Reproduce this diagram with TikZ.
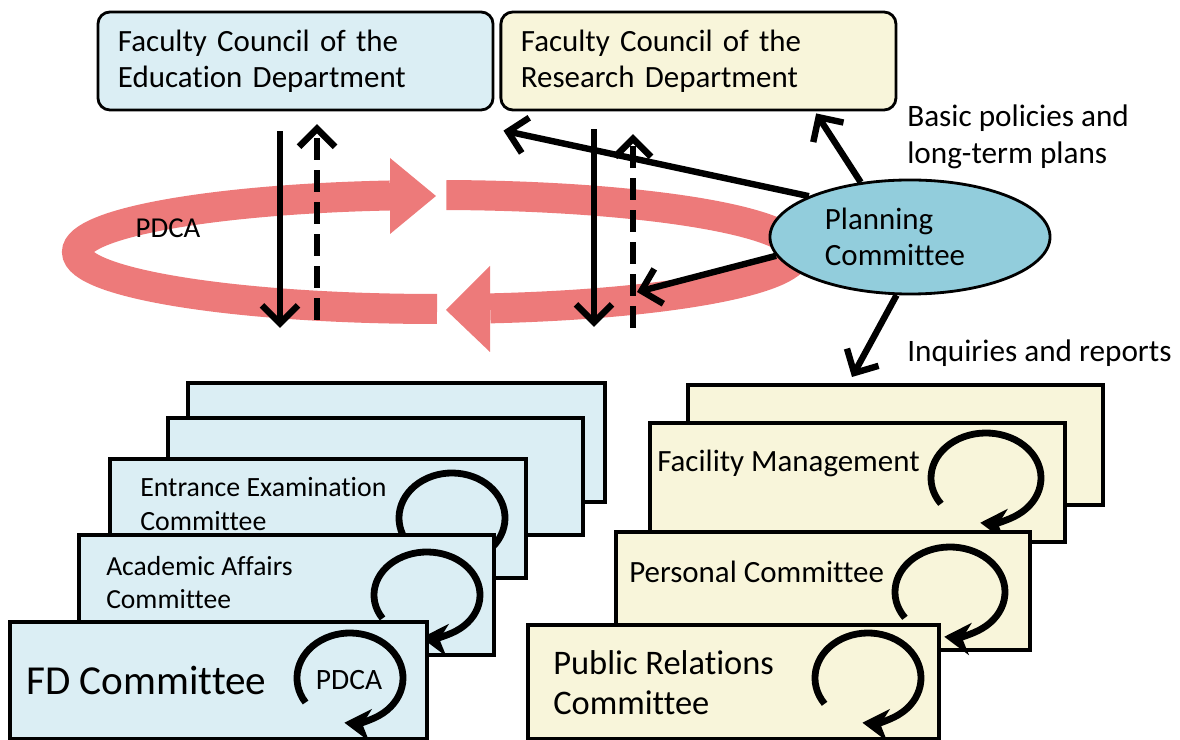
\documentclass[tikz,border=0pt]{standalone}
\usepackage{fontspec}
\setmainfont{Carlito}[Ligatures=NoCommon]
\usepackage{tikz}
\usetikzlibrary{shapes.geometric, positioning, arrows.meta}

\definecolor{edufill}{RGB}{219,238,244}
\definecolor{resfill}{RGB}{248,245,218}
\definecolor{planfill}{RGB}{146,205,220}
\definecolor{ringred}{RGB}{237,122,122}

\tikzset{
  topbox/.style={draw, line width=2pt, rounded corners=0.3cm, minimum height=2.45cm,
    text width=8.875cm, inner xsep=0.5cm, align=left, font=\fontsize{22}{25.5}\selectfont},
  cbox/.style={draw, line width=2.5pt},
  ctxt/.style={anchor=west, align=left, inner sep=0pt},
  lbl/.style={anchor=west, align=left, inner sep=0pt, font=\fontsize{22.2}{26.2}\selectfont},
  blk/.style={line width=0.16cm, -{Straight Barb[length=0.45cm, width=0.9cm]}},
  cyc/.style={line width=0.17cm, -{Stealth[length=0.65cm, width=0.8cm, inset=0.2cm]}},
  ring/.style={draw=ringred, line width=0.75cm},
}

\begin{document}
\begin{tikzpicture}[x=0.025cm, y=-0.025cm]
\useasboundingbox (0,0) rectangle (1180,740);

% PDCA ring
\draw[ring] (437,252) ++(90:360 and 57) arc[start angle=90, end angle=262.5, x radius=360, y radius=57];
\fill[ringred] (390,158) -- (436,196) -- (390,234) -- cycle;
\draw[ring] (437,252) ++(271.5:360 and 57) arc[start angle=271.5, end angle=441.5, x radius=360, y radius=57];
\fill[ringred] (490,266) -- (446,310) -- (490,352) -- cycle;
\node[inner sep=0pt, font=\fontsize{20.5}{24}\selectfont] (ringlbl) at (168,228) {PDCA};

% councils and planning committee
\node[topbox, fill=edufill] (edu) at (295.5,61) {Faculty Council of the\\Education Department};
\node[topbox, fill=resfill, right=0.125cm of edu] (rese) {Faculty Council of the\\Research Department};
\node[ellipse, draw, line width=2pt, fill=planfill, minimum width=7cm, minimum height=2.85cm,
  text width=4.25cm, align=left, font=\fontsize{22}{25.5}\selectfont] (plan) at (910,237) {Planning\\Committee};

\node[lbl] (basic) at (907,137) {Basic policies and\\long-term plans};
\node[lbl] (inqlbl) at (907,353) {Inquiries and reports};

% vertical arrows
\coordinate (edn) at (280,328);
\coordinate (eup) at (317,320);
\coordinate (rdn) at (594,327);
\coordinate (rup) at (633,328);
\draw[blk, shorten <=0.5cm] (edu.south -| edn) -- (edn);
\draw[blk, dashed, dash pattern=on 0.55cm off 0.25cm, shorten >=0.32cm] (eup) -- (edu.south -| eup);
\draw[blk, shorten <=0.45cm] (rese.south -| rdn) -- (rdn);
\draw[blk, dashed, dash pattern=on 0.55cm off 0.25cm, shorten >=0.57cm] (rup) -- (rese.south -| rup);

% arrows of the planning committee
\coordinate (rin) at (637,292);
\coordinate (inq) at (852,377);
\draw[blk] (plan.132) -- ([xshift=-2.03cm, yshift=-0.05cm]rese.south east);
\draw[blk] (plan.158) -- ([xshift=0.1cm, yshift=-0.48cm]rese.south west);
\draw[blk] (plan.188) -- (rin);
\draw[blk] (plan.257) -- (inq);

% education committees
\draw[cbox, fill=edufill] (188,383) rectangle (605,502);
\draw[cbox, fill=edufill] (168,418) rectangle (583,535);
\draw[cbox, fill=edufill] (110,459) rectangle (526,578);
\draw[cyc] (452,518) ++(147:53 and 45) arc[start angle=147, end angle=456, x radius=53, y radius=45];
\node[ctxt, font=\fontsize{19.8}{24.8}\selectfont] (entr) at (140,504) {Entrance Examination\\Committee};
\draw[cbox, fill=edufill] (79,535) rectangle (494,655);
\draw[cyc] (427,595) ++(147:53 and 43) arc[start angle=147, end angle=456, x radius=53, y radius=43];
\node[ctxt, font=\fontsize{19.6}{23.5}\selectfont] (acad) at (106,583) {Academic Affairs\\Committee};
\draw[cbox, fill=edufill] (10,622) rectangle (427,739);
\draw[cyc] (350,678) ++(147:53 and 45) arc[start angle=147, end angle=456, x radius=53, y radius=45];
\node[ctxt, font=\fontsize{29.3}{34}\selectfont] (fd) at (26,680) {FD Committee};
\node[inner sep=0pt, font=\fontsize{21}{25}\selectfont] (fdpdca) at (349,680) {PDCA};

% research committees
\draw[cbox, fill=resfill] (688,385) rectangle (1103,505);
\draw[cbox, fill=resfill] (650,423) rectangle (1065,542);
\draw[cyc] (986,478) ++(145:55 and 45) arc[start angle=145, end angle=456, x radius=55, y radius=45];
\node[ctxt, font=\fontsize{22}{25}\selectfont] (facil) at (657,463) {Facility Management};
\draw[cbox, fill=resfill] (616,532) rectangle (1030,650);
\draw[cyc] (950,592) ++(145:55 and 45) arc[start angle=145, end angle=456, x radius=55, y radius=45];
\node[ctxt, font=\fontsize{22}{26}\selectfont] (pers) at (629,572) {Personal Committee};
\draw[cbox, fill=resfill] (528,625) rectangle (939,739);
\draw[cyc] (868,678) ++(145:53 and 45) arc[start angle=145, end angle=456, x radius=53, y radius=45];
\node[ctxt, font=\fontsize{24.5}{28.3}\selectfont] (pubrel) at (553,683) {Public Relations\\Committee};
\end{tikzpicture}
\end{document}
